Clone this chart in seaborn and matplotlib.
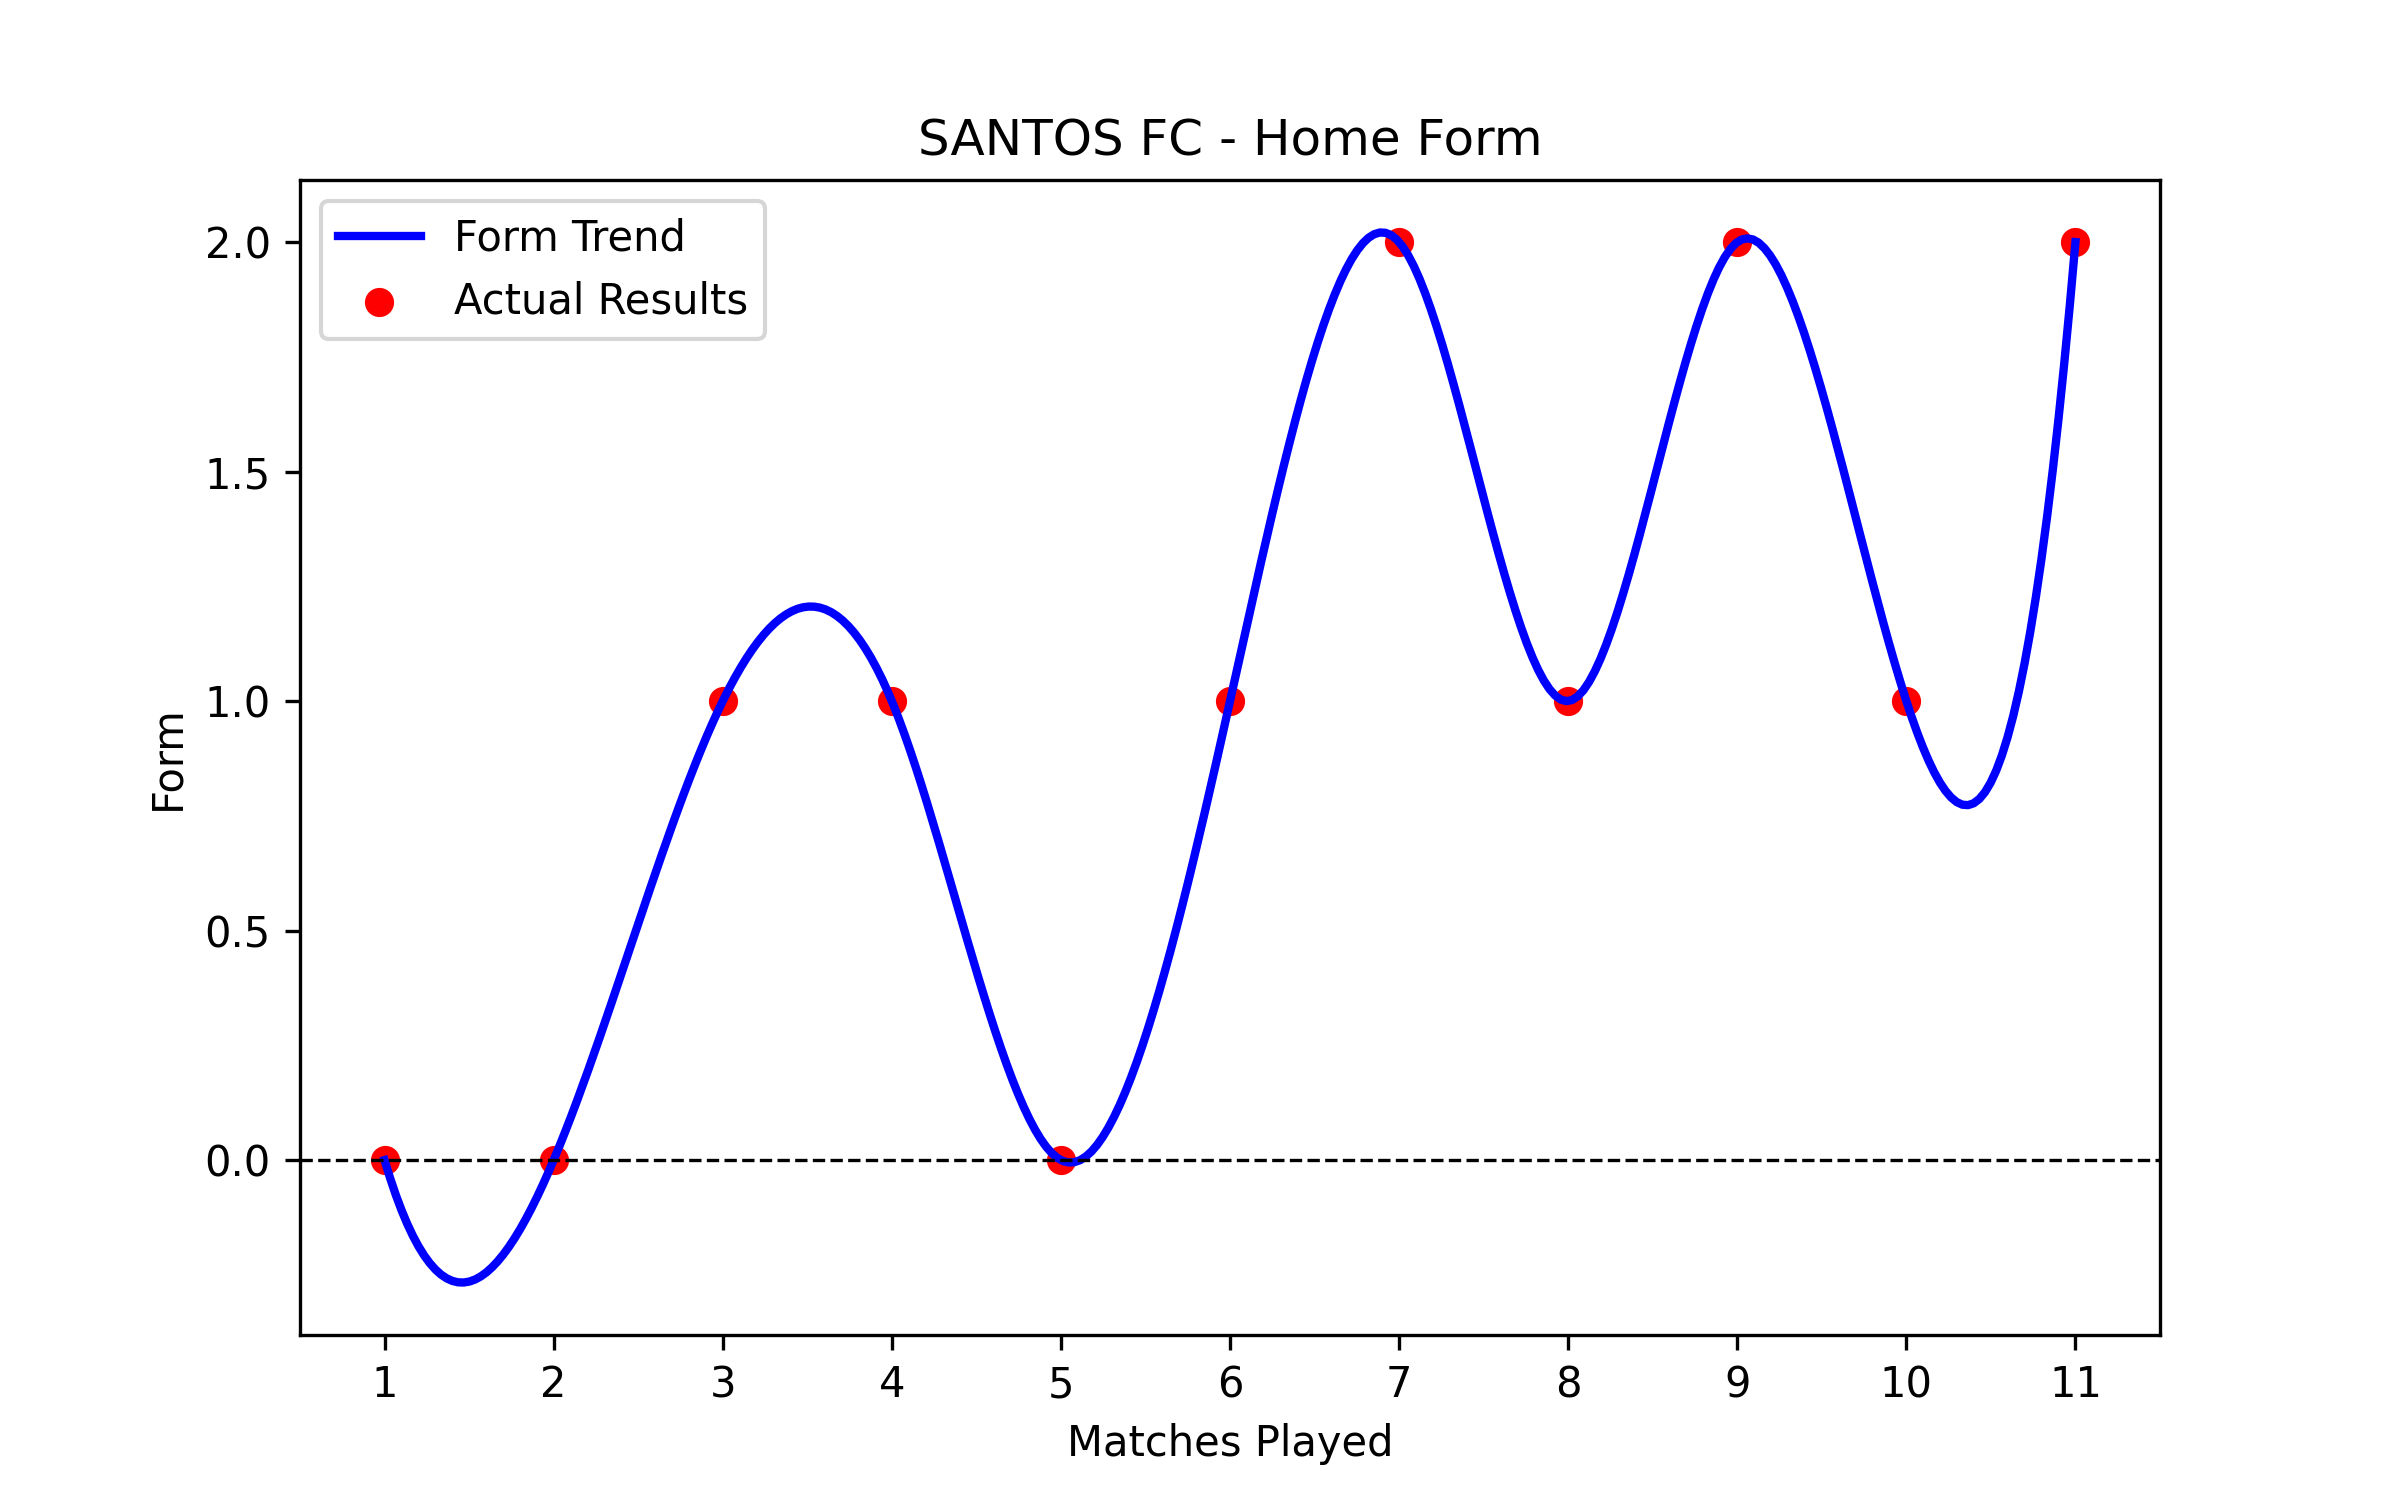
import numpy as np
import pandas as pd
import seaborn as sns
import matplotlib
matplotlib.use("Agg")
import matplotlib.pyplot as plt

# Match results at home: 0 = loss, 1 = draw, 2 = win
matches = [1, 2, 3, 4, 5, 6, 7, 8, 9, 10, 11]
results = [0, 0, 1, 1, 0, 1, 2, 1, 2, 1, 2]


def cubic_spline(x, y, x_new):
    """
    Not-a-knot cubic spline through (x, y), evaluated at x_new.
    """
    x = np.asarray(x, dtype=float)
    y = np.asarray(y, dtype=float)
    n = len(x)
    h = np.diff(x)
    A = np.zeros((n, n))
    rhs = np.zeros(n)
    for i in range(1, n - 1):
        A[i, i - 1] = h[i - 1]
        A[i, i] = 2 * (h[i - 1] + h[i])
        A[i, i + 1] = h[i]
        rhs[i] = 6 * ((y[i + 1] - y[i]) / h[i] - (y[i] - y[i - 1]) / h[i - 1])
    # not-a-knot ends
    A[0, 0], A[0, 1], A[0, 2] = h[1], -(h[0] + h[1]), h[0]
    A[-1, -3], A[-1, -2], A[-1, -1] = h[-1], -(h[-2] + h[-1]), h[-2]
    M = np.linalg.solve(A, rhs)

    idx = np.clip(np.searchsorted(x, x_new) - 1, 0, n - 2)
    t = x_new - x[idx]
    hi = h[idx]
    b = (y[idx + 1] - y[idx]) / hi - hi * (2 * M[idx] + M[idx + 1]) / 6
    return y[idx] + b * t + M[idx] / 2 * t ** 2 + (M[idx + 1] - M[idx]) / (6 * hi) * t ** 3


def main():
    df = pd.DataFrame({"Match": matches, "Form": results})
    x_smooth = np.linspace(min(matches), max(matches), 300)
    trend = pd.DataFrame({"Match": x_smooth,
                          "Form": cubic_spline(matches, results, x_smooth)})

    fig, ax = plt.subplots(figsize=(8, 5))
    sns.lineplot(data=trend, x="Match", y="Form", color="blue", linewidth=2,
                 label="Form Trend", ax=ax)
    sns.scatterplot(data=df, x="Match", y="Form", color="red", s=36,
                    edgecolor="red", linewidth=1, label="Actual Results", ax=ax)
    ax.axhline(0, color="black", linestyle="--", linewidth=0.8)

    ax.set_title("SANTOS FC - Home Form")
    ax.set_xlabel("Matches Played")
    ax.set_ylabel("Form")
    ax.set_xticks(matches)
    ax.legend(loc="upper left")

    fig.savefig("out.png", dpi=300)


if __name__ == "__main__":
    main()
